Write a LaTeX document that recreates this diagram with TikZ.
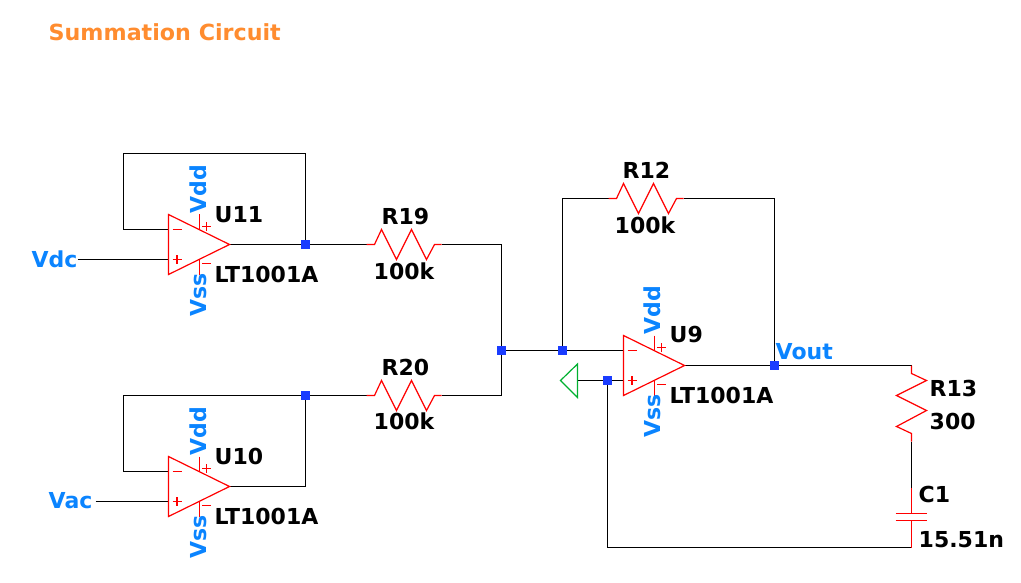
\documentclass[tikz,border=0pt]{standalone}
\usepackage{fontspec}
\setmainfont{DejaVu Sans}[BoldFont={DejaVu Sans Bold}]
\definecolor{lblblue}{HTML}{0A84FF}
\definecolor{ttl}{HTML}{FF8C2F}
\definecolor{junc}{HTML}{1A3CFF}
\definecolor{sym}{HTML}{FF0000}
\definecolor{gnd}{HTML}{00B030}
\tikzset{
  x=1pt,y=-1pt,
  wire/.style={draw=black,line width=1.2pt},
  part/.style={draw=sym,line width=1.2pt},
  junction/.style={fill=junc,draw=none,minimum size=9pt,inner sep=0pt,shape=rectangle},
  txt/.style={font=\fontsize{22}{24}\selectfont\bfseries,inner sep=0pt,anchor=base west,text=black},
  net/.style={txt,text=lblblue},
  vnet/.style={net,rotate=90},
  opamp/.pic={
    \coordinate (-minus) at (0,-15);
    \coordinate (-plus) at (0,15);
    \coordinate (-out) at (61,0);
    \draw[part] (0,-30) -- (0,30) -- (61,0) -- cycle;
    \draw[part] (31,-30) -- (31,-15) (31,15) -- (31,30);
    \draw[part] (4,-15) -- (13,-15) (4,15) -- (13,15) (8.5,10.5) -- (8.5,19.5);
    \draw[part] (33.5,-18) -- (42.5,-18) (38,-22.5) -- (38,-13.5) (33.5,19) -- (42.5,19);
  },
  hres/.pic={
    \coordinate (-a) at (0,0);
    \coordinate (-b) at (75,0);
    \draw[part] (0,0) -- (8,0) -- (15,-15) -- (30,15) -- (45,-15) -- (60,15) -- (68,0) -- (75,0);
  },
  vres/.pic={
    \coordinate (-a) at (0,0);
    \coordinate (-b) at (0,76);
    \draw[part] (0,0) -- (0,8) -- (15,15) -- (-15,30) -- (15,45) -- (-15,61) -- (0,68) -- (0,76);
  },
}
\pgfdeclarelayer{wires}
\pgfsetlayers{wires,main}
\begin{document}
\begin{tikzpicture}
\useasboundingbox (0,0) rectangle (1021,583);
\begin{scope}[shift={(0.5,0.5)}]

\node[txt,text=ttl,font=\fontsize{22.2}{24}\selectfont\bfseries] (title) at (48,40) {Summation Circuit};

% parts
\pic (u11) at (168,244) {opamp};
\pic (u10) at (168,486) {opamp};
\pic (u9) at (623,365) {opamp};
\pic (r19) at (366,244) {hres};
\pic (r20) at (366,395) {hres};
\pic (r12) at (608,198) {hres};
\pic (r13) at (911,365) {vres};

% capacitor
\coordinate (c1a) at (911,487);
\coordinate (c1b) at (911,547);
\draw[part] (c1a) -- (911,513) (895,513) -- (926,513) (895,520) -- (926,520) (911,520) -- (c1b);

% ground
\coordinate (gnd1) at (577,380);
\draw[draw=gnd,line width=1.2pt] (577,363.5) -- (560,380) -- (577,397) -- cycle;

% junctions
\node[junction] (j1) at (305,244) {};
\node[junction] (j2) at (305,395) {};
\node[junction] (j3) at (501,350) {};
\node[junction] (j4) at (562,350) {};
\node[junction] (j5) at (607,380) {};
\node[junction] (j6) at (774,365) {};

% free wire ends and corners
\coordinate (vdc) at (77,259);
\coordinate (vac) at (95,501);
\coordinate (k1) at (501,244);
\coordinate (k2) at (501,395);
\coordinate (k3) at (911,365);

% wires
\begin{pgfonlayer}{wires}
\draw[wire] (vdc) -- (u11-plus);
\draw[wire] (vac) -- (u10-plus);
\draw[wire] (u11-minus) -| (123,153) -| (j1.center);
\draw[wire] (u11-out) -- (j1.center) -- (r19-a);
\draw[wire] (r19-b) -- (k1) -- (j3.center);
\draw[wire] (u10-minus) -| (123,395) -- (j2.center);
\draw[wire] (u10-out) -| (j2.center);
\draw[wire] (j2.center) -- (r20-a);
\draw[wire] (r20-b) -- (k2) -- (j3.center);
\draw[wire] (j3.center) -- (j4.center) -- (u9-minus);
\draw[wire] (j4.center) |- (r12-a);
\draw[wire] (r12-b) -| (j6.center);
\draw[wire] (u9-out) -- (j6.center) -- (k3) -- (r13-a);
\draw[wire] (r13-b) -- (c1a);
\draw[wire] (gnd1) -- (j5.center) -- (u9-plus);
\draw[wire] (j5.center) |- (c1b);
\end{pgfonlayer}

% labels
\node[txt] (lu11) at (214,222) {U11};
\node[txt] (tu11) at (214,282) {LT1001A};
\node[vnet] (vdd11) at (206,213) {Vdd};
\node[vnet] (vss11) at (206,316) {Vss};
\node[txt] (lu10) at (214,464) {U10};
\node[txt] (tu10) at (214,524) {LT1001A};
\node[vnet] (vdd10) at (206,455) {Vdd};
\node[vnet] (vss10) at (206,558) {Vss};
\node[txt] (lu9) at (669,342) {U9};
\node[txt] (tu9) at (669,403) {LT1001A};
\node[vnet] (vdd9) at (660,334) {Vdd};
\node[vnet] (vss9) at (660,437) {Vss};
\node[txt] (lr19) at (381,224) {R19};
\node[txt] (vr19) at (373,279) {100k};
\node[txt] (lr20) at (381,375) {R20};
\node[txt] (vr20) at (373,429) {100k};
\node[txt] (lr12) at (622,178) {R12};
\node[txt] (vr12) at (614,233) {100k};
\node[txt] (lr13) at (929,396) {R13};
\node[txt] (vr13) at (929,429) {300};
\node[txt] (lc1) at (918,502) {C1};
\node[txt] (vc1) at (918,547) {15.51n};
\node[net] (lvdc) at (31,267) {Vdc};
\node[net] (lvac) at (48,508) {Vac};
\node[net] (lvout) at (775,359) {Vout};
\end{scope}
\end{tikzpicture}
\end{document}
